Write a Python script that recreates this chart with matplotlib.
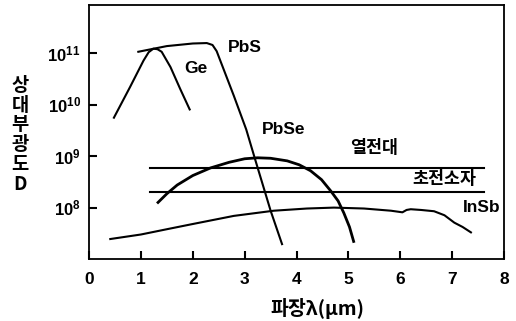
import numpy as np
import matplotlib.pyplot as plt

plt.rcParams['mathtext.fontset'] = 'custom'
plt.rcParams['mathtext.rm'] = 'Liberation Sans'
plt.rcParams['mathtext.bf'] = 'Liberation Sans:bold'

# wavelength (um) / detectivity
ge_x = [0.48, 0.79, 1.05, 1.15, 1.24, 1.32, 1.40, 1.57, 1.76, 1.94]
ge_y = [5.6e9, 2.2e10, 7.2e10, 1.05e11, 1.23e11, 1.2e11, 1.07e11, 5.4e10, 2.0e10, 8.1e9]

pbs_x = [0.95, 1.50, 2.00, 2.27, 2.38, 2.46, 2.53, 2.79, 3.03, 3.21, 3.50, 3.72]
pbs_y = [1.07e11, 1.38e11, 1.55e11, 1.58e11, 1.45e11, 1.1e11, 7.2e10, 1.5e10, 3.3e9, 8.1e8, 8.7e7, 1.95e7]

pbse_x = [1.33, 1.50, 1.70, 2.00, 2.34, 2.70, 3.00, 3.25, 3.50, 3.82, 4.05, 4.27, 4.48, 4.66, 4.80, 4.91, 5.02, 5.10]
pbse_y = [1.26e8, 1.86e8, 2.75e8, 4.2e8, 5.9e8, 7.6e8, 8.9e8, 9.3e8, 9.1e8, 8.1e8, 6.8e8, 5.2e8, 3.5e8, 2.1e8, 1.35e8, 7.9e7, 4.2e7, 2.2e7]

insb_x = [0.41, 1.00, 1.50, 2.00, 2.79, 3.56, 4.20, 4.72, 5.30, 5.82, 6.04, 6.12, 6.20, 6.40, 6.65, 6.85, 7.04, 7.20, 7.36]
insb_y = [2.45e7, 3.0e7, 3.8e7, 4.8e7, 6.9e7, 8.7e7, 9.6e7, 1.0e8, 9.6e7, 8.7e7, 8.1e7, 9.0e7, 9.3e7, 9.0e7, 8.5e7, 7.1e7, 5.1e7, 4.2e7, 3.3e7]

pyro_x = [1.18, 7.61]
thermo_level = 6.0e8
pyro_level = 2.0e8

xticks = [0, 1, 2, 3, 4, 5, 6, 7, 8]
yticks = [1e8, 1e9, 1e10, 1e11]
ytick_labels = ['$\\mathbf{10^{8}}$', '$\\mathbf{10^{9}}$', '$\\mathbf{10^{10}}$', '$\\mathbf{10^{11}}$']

fig = plt.figure(figsize=(5.16, 3.21), dpi=100)
ax = fig.add_axes([0.1725, 0.193, 0.8045, 0.791])

lw = 1.5
ax.plot(ge_x, ge_y, color='black', lw=lw)
ax.plot(pbs_x, pbs_y, color='black', lw=lw)
ax.plot(pbse_x, pbse_y, color='black', lw=2.0)
ax.plot(insb_x, insb_y, color='black', lw=lw)
ax.plot(pyro_x, [thermo_level] * 2, color='black', lw=lw)
ax.plot(pyro_x, [pyro_level] * 2, color='black', lw=lw)

ax.set_yscale('log')
ax.set_xlim(0, 8)
ax.set_ylim(1e7, 10 ** 11.936)
ax.set_xticks(xticks)
ax.set_xticklabels([str(t) for t in xticks], fontfamily='Liberation Sans', fontweight='bold', fontsize=12.5)
ax.set_yticks(yticks)
ax.set_yticklabels(ytick_labels, fontsize=12)
ax.yaxis.set_minor_locator(plt.NullLocator())
ax.tick_params(axis='both', direction='in', length=6, width=1.5)
ax.tick_params(axis='x', pad=9)
ax.tick_params(axis='y', pad=6)
for s in ax.spines.values():
    s.set_linewidth(1.3)

# curve labels
lat = dict(fontfamily='Liberation Sans', fontweight='bold', fontsize=12.5, ha='center', va='center')
ax.text(3.0, 10 ** 11.12, 'PbS', **lat)
ax.text(2.05, 10 ** 10.71, 'Ge', **lat)
ax.text(3.75, 10 ** 9.52, 'PbSe', **lat)
ax.text(7.57, 10 ** 8.0, 'InSb', **lat)
kr = dict(fontfamily=['Noto Sans CJK KR', 'DejaVu Sans'], fontweight='bold', fontsize=12.5, ha='center', va='center')
ax.text(5.49, 10 ** 9.15, '열전대', **kr)
ax.text(6.84, 10 ** 8.56, '초전소자', **kr)

fig.text(0.615, 0.04, '파장λ(μm)', family=['Noto Sans CJK KR', 'DejaVu Sans'],
         fontsize=14, fontweight='bold', ha='center', va='center')
fig.text(0.039, 0.58, '\n'.join('상대부광도D'), family=['Noto Sans CJK KR', 'DejaVu Sans'],
         fontsize=13.5, fontweight='bold', ha='center', va='center', linespacing=1.05)

fig.savefig('out.png', dpi=100)
